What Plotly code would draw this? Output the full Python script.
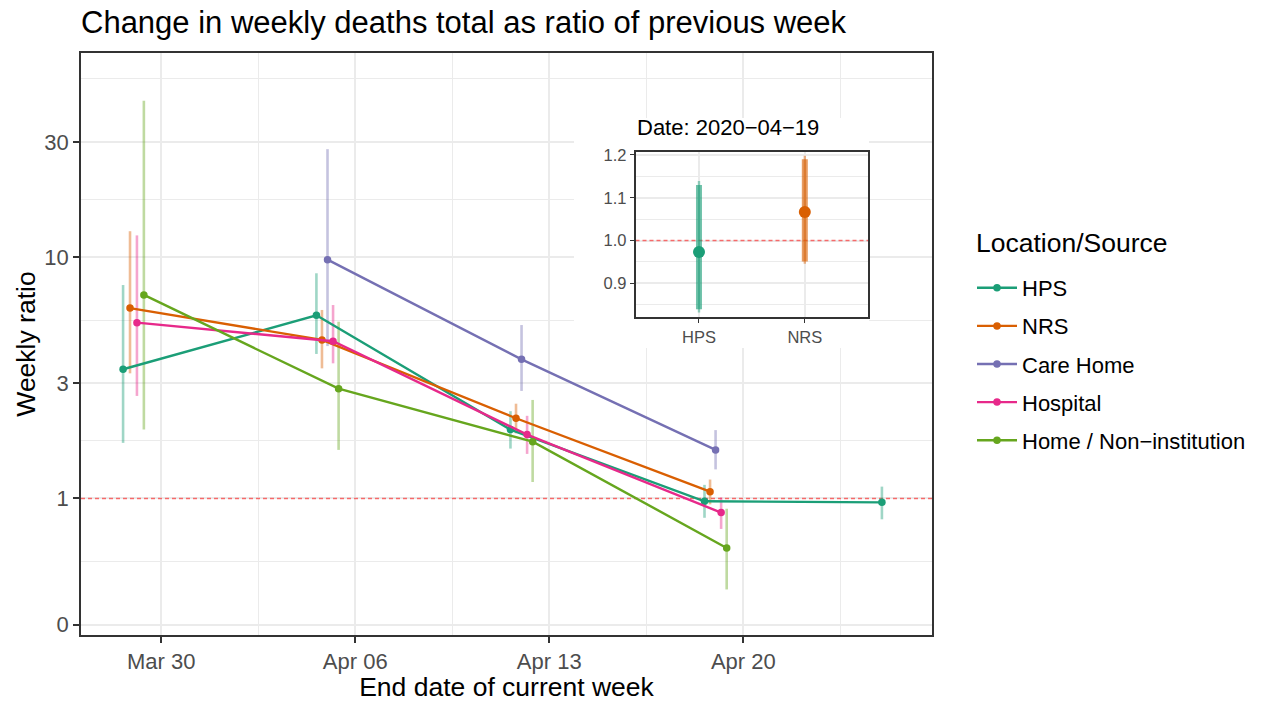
import pandas as pd
import plotly.graph_objects as go

# ---- data -------------------------------------------------------------------
WEEK_END = ["2020-03-29", "2020-04-05", "2020-04-12", "2020-04-19", "2020-04-25"]
SOURCES = ["HPS", "NRS", "Care Home", "Hospital", "Home / Non\u2212institution"]
COLOURS = ["#1B9E77", "#D95F02", "#7570B3", "#E7298A", "#66A61E"]

HPS_RATIO = [3.43, 5.74, 1.93, 0.9735, 0.964]
HPS_LOWER = [1.70, 3.97, 1.61, 0.832, 0.82]
HPS_UPPER = [7.66, 8.57, 2.30, 1.139, 1.12]

NRS_RATIO = [6.15, 4.54, 2.15, 1.0669, None]
NRS_LOWER = [3.30, 3.46, 1.86, 0.9455, None]
NRS_UPPER = [12.8, 6.04, 2.47, 1.198, None]

CARE_RATIO = [None, 9.76, 3.77, 1.59, None]
CARE_LOWER = [None, 4.28, 2.79, 1.32, None]
CARE_UPPER = [None, 28.0, 5.23, 1.92, None]

HOSP_RATIO = [5.35, 4.48, 1.84, 0.874, None]
HOSP_LOWER = [2.66, 3.63, 1.53, 0.748, None]
HOSP_UPPER = [12.3, 6.33, 2.20, 1.01, None]

HOME_RATIO = [6.97, 2.85, 1.72, 0.624, None]
HOME_LOWER = [1.93, 1.59, 1.17, 0.42, None]
HOME_UPPER = [44.4, 5.40, 2.56, 0.907, None]

RATIOS = [HPS_RATIO, NRS_RATIO, CARE_RATIO, HOSP_RATIO, HOME_RATIO]
LOWERS = [HPS_LOWER, NRS_LOWER, CARE_LOWER, HOSP_LOWER, HOME_LOWER]
UPPERS = [HPS_UPPER, NRS_UPPER, CARE_UPPER, HOSP_UPPER, HOME_UPPER]

Y_TICKS = [0.3, 1, 3, 10, 30]
Y_TICK_TEXT = ["0", "1", "3", "10", "30"]
X_TICKS = ["2020-03-30", "2020-04-06", "2020-04-13", "2020-04-20"]
X_TICK_TEXT = ["Mar 30", "Apr 06", "Apr 13", "Apr 20"]

# detail panel for the latest complete week
INSET_DATE = "2020-04-19"
INSET_SOURCES = ["HPS", "NRS"]
INSET_RATIO = [0.9735, 1.0669]
INSET_LOW_OUTER = [0.832, 0.9455]
INSET_HIGH_OUTER = [1.139, 1.198]
INSET_LOW_INNER = [0.8397, 0.951]
INSET_HIGH_INNER = [1.130, 1.190]

# ---- styling ----------------------------------------------------------------
FONT = "Liberation Sans, Arial, sans-serif"
GRID = "#EBEBEB"
FRAME = "#333333"
TICK_TXT = "#4D4D4D"
DODGE_DAYS = 1.0
W, H = 1263, 702
ML, MR, MT, MB = 81, 331, 53, 67
PLOT_W, PLOT_H = W - ML - MR, H - MT - MB


def rgba(hex_colour, alpha):
    h = hex_colour.lstrip("#")
    r, g, b = int(h[0:2], 16), int(h[2:4], 16), int(h[4:6], 16)
    return f"rgba({r},{g},{b},{alpha})"


def px_x(px):
    return (px - ML) / PLOT_W


def px_y(py):
    return (H - MB - py) / PLOT_H


def dodged_x(series_idx, date_idx):
    present = [s for s in range(len(SOURCES)) if RATIOS[s][date_idx] is not None]
    n = len(present)
    k = present.index(series_idx)
    offset = (k - (n - 1) / 2) * DODGE_DAYS / n
    return (pd.Timestamp(WEEK_END[date_idx]) + pd.Timedelta(days=offset)).to_pydatetime()


fig = go.Figure()

# interval bars (under the lines)
for s, name in enumerate(SOURCES):
    xs, ys = [], []
    for j in range(len(WEEK_END)):
        if RATIOS[s][j] is None:
            continue
        x = dodged_x(s, j)
        xs += [x, x, None]
        ys += [LOWERS[s][j], UPPERS[s][j], None]
    fig.add_trace(go.Scatter(
        x=xs, y=ys, mode="lines", showlegend=False, hoverinfo="skip",
        line=dict(color=rgba(COLOURS[s], 0.42), width=2.6),
        xaxis="x", yaxis="y",
    ))

# weekly ratio lines and points
for s, name in enumerate(SOURCES):
    xs, ys = [], []
    for j in range(len(WEEK_END)):
        if RATIOS[s][j] is None:
            continue
        xs.append(dodged_x(s, j))
        ys.append(RATIOS[s][j])
    fig.add_trace(go.Scatter(
        x=xs, y=ys, mode="lines+markers", name=name, legendgroup=name,
        line=dict(color=COLOURS[s], width=2.4),
        marker=dict(color=COLOURS[s], size=7.5),
        xaxis="x", yaxis="y",
    ))

# white backing card for the detail panel
fig.add_trace(go.Scatter(
    x=[0, 1, 1, 0, 0], y=[0, 0, 1, 1, 0], mode="lines", fill="toself",
    fillcolor="white", line=dict(width=0, color="white"),
    showlegend=False, hoverinfo="skip", xaxis="x2", yaxis="y2",
))

# detail panel: outer and inner intervals plus point estimate
for k, src in enumerate(INSET_SOURCES):
    col = COLOURS[SOURCES.index(src)]
    fig.add_trace(go.Scatter(
        x=[src, src], y=[INSET_LOW_OUTER[k], INSET_HIGH_OUTER[k]], mode="lines",
        line=dict(color=rgba(col, 0.45), width=2.4), showlegend=False,
        hoverinfo="skip", xaxis="x3", yaxis="y3",
    ))
    fig.add_trace(go.Scatter(
        x=[src, src], y=[INSET_LOW_INNER[k], INSET_HIGH_INNER[k]], mode="lines",
        line=dict(color=rgba(col, 0.62), width=6), showlegend=False,
        hoverinfo="skip", xaxis="x3", yaxis="y3",
    ))
    fig.add_trace(go.Scatter(
        x=[src], y=[INSET_RATIO[k]], mode="markers",
        marker=dict(color=col, size=12), showlegend=False,
        xaxis="x3", yaxis="y3",
    ))

x_start = (pd.Timestamp(X_TICKS[0]) - pd.Timedelta(days=2.893)).to_pydatetime()
x_end = (pd.Timestamp(X_TICKS[-1]) + pd.Timedelta(days=6.807)).to_pydatetime()
x_minor = [(pd.Timestamp(t) + pd.Timedelta(days=3.5)).to_pydatetime() for t in X_TICKS]
y_minor = [0.5477, 1.732, 5.477, 17.32, 54.77]

fig.update_layout(
    width=W, height=H,
    margin=dict(l=ML, r=MR, t=MT, b=MB, autoexpand=False),
    paper_bgcolor="white", plot_bgcolor="white",
    font=dict(family=FONT, color="black"),
    title=dict(
        text="Change in weekly deaths total as ratio of previous week",
        x=0, xref="paper", xanchor="left", y=1 - 22 / H, yref="container",
        yanchor="middle", font=dict(size=31, color="black"),
    ),
    xaxis=dict(
        type="date", range=[x_start, x_end], domain=[0, 1], automargin=False,
        tickmode="array", tickvals=X_TICKS, ticktext=X_TICK_TEXT,
        ticks="outside", ticklen=6, tickwidth=1.6, tickcolor=FRAME,
        tickfont=dict(size=22, color=TICK_TXT),
        showgrid=True, gridcolor=GRID, gridwidth=2.2,
        minor=dict(tickvals=x_minor, showgrid=True, gridcolor=GRID, gridwidth=1.1, ticks=""),
        showline=True, mirror=True, linecolor=FRAME, linewidth=1.6,
        zeroline=False,
        title=dict(text="End date of current week", font=dict(size=26.5, color="black"), standoff=8),
    ),
    yaxis=dict(
        type="log", range=[-0.5655, 1.8455], domain=[0, 1], automargin=False,
        tickmode="array", tickvals=Y_TICKS, ticktext=Y_TICK_TEXT,
        ticks="outside", ticklen=6, tickwidth=1.6, tickcolor=FRAME,
        tickfont=dict(size=22, color=TICK_TXT),
        showgrid=True, gridcolor=GRID, gridwidth=2.2,
        minor=dict(tickvals=y_minor, showgrid=True, gridcolor=GRID, gridwidth=1.1, ticks=""),
        showline=True, mirror=True, linecolor=FRAME, linewidth=1.6,
        zeroline=False,
        title=dict(text="Weekly ratio", font=dict(size=26.5, color="black"), standoff=1),
    ),
    xaxis2=dict(domain=[px_x(574), px_x(869)], range=[0, 1], visible=False,
                fixedrange=True, anchor="y2"),
    yaxis2=dict(domain=[px_y(348), px_y(118)], range=[0, 1], visible=False,
                fixedrange=True, anchor="x2"),
    xaxis3=dict(
        domain=[px_x(635.5), px_x(868.3)], anchor="y3", type="category",
        categoryorder="array", categoryarray=INSET_SOURCES, range=[-0.6, 1.6],
        ticks="outside", ticklen=4, tickwidth=1.2, tickcolor=FRAME,
        tickfont=dict(size=16.5, color=TICK_TXT),
        showgrid=True, gridcolor=GRID, gridwidth=1.5, automargin=False,
        showline=True, mirror=True, linecolor=FRAME, linewidth=1.6, zeroline=False,
    ),
    yaxis3=dict(
        domain=[px_y(317.3), px_y(152)], anchor="x3", range=[0.8206, 1.207],
        tickmode="array", tickvals=[0.9, 1.0, 1.1, 1.2], ticktext=["0.9", "1.0", "1.1", "1.2"],
        ticks="outside", ticklen=4, tickwidth=1.2, tickcolor=FRAME,
        tickfont=dict(size=16.5, color=TICK_TXT),
        showgrid=True, gridcolor=GRID, gridwidth=1.5, automargin=False,
        minor=dict(tickvals=[0.85, 0.95, 1.05, 1.15], showgrid=True, gridcolor=GRID, gridwidth=0.8, ticks=""),
        showline=True, mirror=True, linecolor=FRAME, linewidth=1.6, zeroline=False,
    ),
    legend=dict(
        x=px_x(972), xanchor="left", y=px_y(267), yanchor="top",
        font=dict(size=22, color="black"), itemwidth=40,
        tracegroupgap=6.5, bgcolor="rgba(0,0,0,0)",
    ),
    shapes=[
        dict(type="line", xref="x", yref="y", x0=x_start, x1=x_end, y0=1, y1=1,
             line=dict(color="rgba(255,0,0,0.55)", width=1.5, dash="4px,3px"), layer="between"),
        dict(type="line", xref="x3", yref="y3", x0=-0.6, x1=1.6, y0=1, y1=1,
             line=dict(color="rgba(255,0,0,0.55)", width=1.5, dash="4px,3px"), layer="between"),
    ],
    annotations=[
        dict(text=f"Date: {INSET_DATE.replace('-', '\u2212')}", xref="paper", yref="paper",
             x=px_x(635), y=px_y(128), xanchor="left", yanchor="middle",
             showarrow=False, font=dict(size=22, color="black")),
        dict(text="Location/Source", xref="paper", yref="paper",
             x=px_x(974), y=px_y(243), xanchor="left", yanchor="middle",
             showarrow=False, font=dict(size=26.5, color="black")),
    ],
)

fig.write_html("out.html")
